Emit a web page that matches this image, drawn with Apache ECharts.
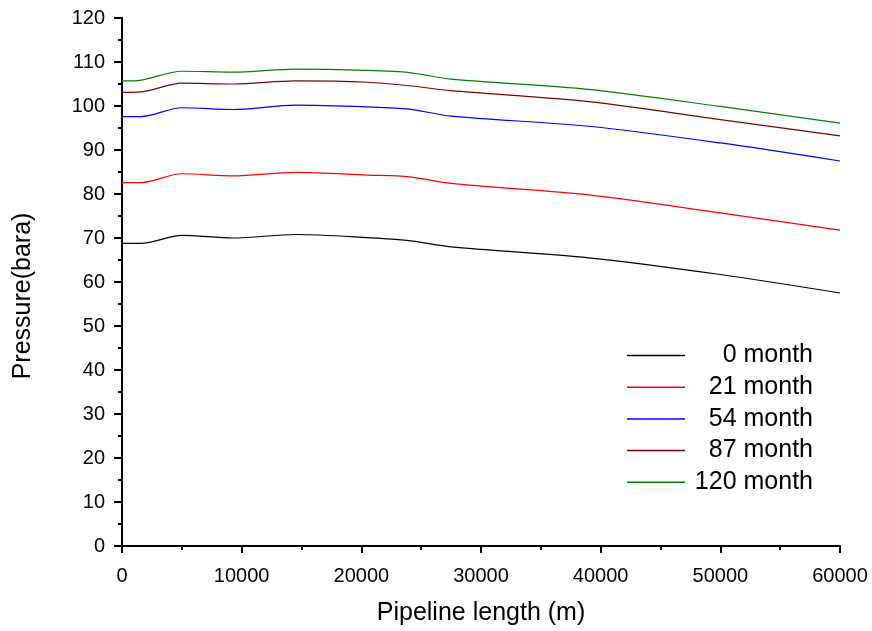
<!DOCTYPE html>
<html>
<head>
<meta charset="utf-8">
<script src="https://cdn.jsdelivr.net/npm/echarts@6/dist/echarts.min.js"></script>
<style>
  html, body { margin: 0; padding: 0; background: #fff; }
  #chart { width: 872px; height: 631px; }
</style>
</head>
<body>
<div id="chart"></div>
<script>
// pipeline position (m)
var lengths = [0, 1600, 5000, 9300, 14500, 20500, 24000, 27500, 39000, 50000, 60000];

// pressure (bara) per service time
var month0 = [68.8, 68.8, 70.6, 70.0, 70.8, 70.1, 69.4, 68.0, 65.5, 61.7, 57.5];
var month21 = [82.6, 82.6, 84.6, 84.1, 84.9, 84.3, 83.9, 82.4, 79.8, 75.7, 71.8];
var month54 = [97.6, 97.6, 99.6, 99.2, 100.2, 99.8, 99.3, 97.7, 95.4, 91.6, 87.5];
var month87 = [103.1, 103.2, 105.2, 105.0, 105.7, 105.4, 104.6, 103.5, 101.0, 96.9, 93.2];
var month120 = [105.7, 105.9, 107.9, 107.7, 108.4, 108.1, 107.6, 106.1, 103.8, 99.9, 96.1];

var seriesNames = ["0 month", "21 month", "54 month", "87 month", "120 month"];
var seriesData = [month0, month21, month54, month87, month120];
var seriesColors = ["#000000", "#ff0000", "#0000ff", "#800000", "#008000"];

function pairs(ys) {
  return lengths.map(function (x, i) { return [x, ys[i]]; });
}

var font = "Liberation Sans, Arial, sans-serif";
var chart = echarts.init(document.getElementById("chart"));

chart.setOption({
  animation: false,
  backgroundColor: "#fff",
  grid: { left: 122, right: 32, top: 18, bottom: 84 },
  legend: {
    orient: "vertical",
    left: 622,
    top: 338,
    icon: "rect",
    itemWidth: 58,
    itemHeight: 1.5,
    itemGap: 6.7,
    data: seriesNames,
    formatter: function (name) { return "{t|" + name + "}"; },
    textStyle: {
      rich: {
        t: { width: 123, align: "right", fontSize: 25, lineHeight: 25, color: "#000", fontFamily: font }
      }
    }
  },
  xAxis: [
    {
      type: "value",
      min: 0,
      max: 60000,
      interval: 10000,
      name: "Pipeline length (m)",
      nameLocation: "middle",
      nameGap: 55,
      nameTextStyle: { fontSize: 25, color: "#000", fontFamily: font },
      axisLine: { show: true, lineStyle: { color: "#000", width: 2 } },
      axisTick: { show: true, inside: false, length: 7, lineStyle: { color: "#000", width: 2 } },
      minorTick: { show: true, splitNumber: 2, length: 4, lineStyle: { color: "#000", width: 2 } },
      axisLabel: {
        fontSize: 20, color: "#000", margin: 20, fontFamily: font,
        formatter: function (v) { return String(v); }
      },
      splitLine: { show: false }
    },
    {
      type: "value",
      position: "top",
      min: 0,
      max: 60000,
      interval: 5000,
      axisLine: { show: true, lineStyle: { color: "#000", width: 2 } },
      axisTick: { show: true, inside: true, length: 2, lineStyle: { color: "#000", width: 1 } },
      axisLabel: { show: false },
      splitLine: { show: false }
    }
  ],
  yAxis: [
    {
      type: "value",
      min: 0,
      max: 120,
      interval: 10,
      name: "Pressure(bara)",
      nameLocation: "middle",
      nameGap: 86,
      nameRotate: 90,
      nameTextStyle: { fontSize: 25, color: "#000", fontFamily: font, padding: [0, 28, 0, 0] },
      axisLine: { show: true, lineStyle: { color: "#000", width: 2 } },
      axisTick: { show: true, inside: false, length: 8, lineStyle: { color: "#000", width: 2 } },
      minorTick: { show: true, splitNumber: 2, length: 4, lineStyle: { color: "#000", width: 2 } },
      axisLabel: { fontSize: 20, color: "#000", margin: 17, fontFamily: font },
      splitLine: { show: false }
    },
    {
      type: "value",
      position: "right",
      min: 0,
      max: 120,
      interval: 5,
      axisLine: { show: true, lineStyle: { color: "#000", width: 2 } },
      axisTick: { show: true, inside: true, length: 2, lineStyle: { color: "#000", width: 1 } },
      axisLabel: { show: false },
      splitLine: { show: false }
    }
  ],
  series: seriesNames.map(function (name, i) {
    return {
      name: name,
      type: "line",
      xAxisIndex: 0,
      yAxisIndex: 0,
      showSymbol: false,
      symbol: "none",
      smooth: 0.3,
      color: seriesColors[i],
      lineStyle: { width: 1.2, color: seriesColors[i] },
      data: pairs(seriesData[i])
    };
  })
});
</script>
</body>
</html>
